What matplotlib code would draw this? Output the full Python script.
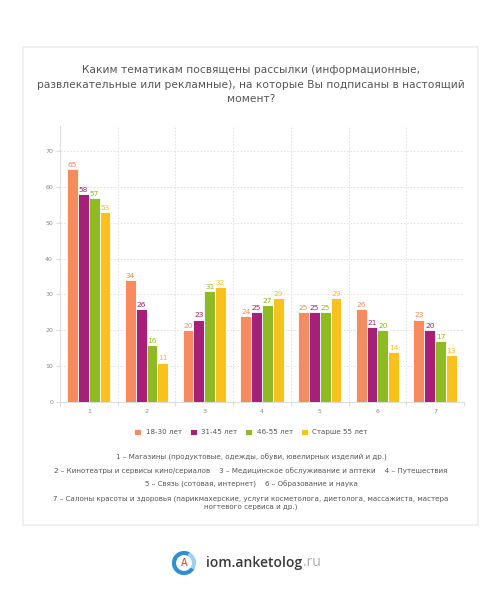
import matplotlib
matplotlib.use('Agg')
import matplotlib.pyplot as plt
from matplotlib.patches import Rectangle, Circle, Wedge
import numpy as np

# data
categories = ['1', '2', '3', '4', '5', '6', '7']
series_names = ['18-30 лет', '31-45 лет', '46-55 лет', 'Старше 55 лет']
age_18_30 = [65, 34, 20, 24, 25, 26, 23]
age_31_45 = [58, 26, 23, 25, 25, 21, 20]
age_46_55 = [57, 16, 31, 27, 25, 20, 17]
age_55_plus = [53, 11, 32, 29, 29, 14, 13]
colors = ['#f58b5e', '#a52077', '#8fba24', '#f8c21e']
y_ticks = [0, 10, 20, 30, 40, 50, 60, 70]

title = ('Каким тематикам посвящены рассылки (информационные,\n'
         'развлекательные или рекламные), на которые Вы подписаны в настоящий\n'
         'момент?')
notes = [
    '1 – Магазины (продуктовые, одежды, обуви, ювелирных изделий и др.)',
    '2 – Кинотеатры и сервисы кино/сериалов    3 – Медицинское обслуживание и аптеки    4 – Путешествия',
    '5 – Связь (сотовая, интернет)    6 – Образование и наука',
    '7 – Салоны красоты и здоровья (парикмахерские, услуги косметолога, диетолога, массажиста, мастера\nногтевого сервиса и др.)',
]

W, H = 502, 600
plt.rcParams['font.family'] = ['DejaVu Sans']
fig = plt.figure(figsize=(W / 100, H / 100), dpi=100, facecolor='white')

# card frame, kept under the axes
fig.add_artist(Rectangle((23 / W, 1 - 525 / H), 455 / W, 478 / H, transform=fig.transFigure,
                         facecolor='white', edgecolor='#ececec', linewidth=1.2, zorder=-5))

fig.text(0.5, 1 - 84.5 / H, title, ha='center', va='center', fontsize=7.7,
         color='#555555', linespacing=1.6)

ax = fig.add_axes([60 / W, 1 - 402 / H, 404 / W, 276 / H])
series = [age_18_30, age_31_45, age_46_55, age_55_plus]
x = np.arange(1, len(categories) + 1)
width = 0.1875
for i, (vals, col, name) in enumerate(zip(series, colors, series_names)):
    pos = x + (i - 1.5) * width
    ax.bar(pos, vals, width=width, color=col, edgecolor='white', linewidth=0.6,
           label=name, zorder=3)
    for p, v in zip(pos, vals):
        ax.text(p, v + 0.3, str(v), ha='center', va='bottom', fontsize=5.4,
                color=col, zorder=4)

ax.set_xlim(0.5, 7.5)
ax.set_ylim(0, 77)
ax.set_yticks(y_ticks)
ax.set_yticklabels([str(t) for t in y_ticks])
ax.set_xticks(x)
ax.set_xticklabels(categories)
ax.set_xticks(np.arange(0.5, 8.0, 1.0), minor=True)
ax.tick_params(axis='x', which='major', length=0, pad=5, labelsize=4.5, labelcolor='#888888')
ax.tick_params(axis='x', which='minor', length=3, color='#dddddd', width=0.8)
ax.tick_params(axis='y', length=3, color='#dddddd', labelsize=4.5, labelcolor='#888888', pad=2)
for s in ['top', 'right']:
    ax.spines[s].set_visible(False)
for s in ['left', 'bottom']:
    ax.spines[s].set_color('#dddddd')
    ax.spines[s].set_linewidth(0.8)
ax.grid(axis='y', color='#dddddd', linestyle=(0, (2, 2)), linewidth=0.6, zorder=0)
for b in np.arange(1.5, 8.0, 1.0):
    ax.axvline(b, color='#dddddd', linestyle=(0, (2, 2)), linewidth=0.6, zorder=0)

handles, labels = ax.get_legend_handles_labels()
fig.legend(handles, labels, loc='center', bbox_to_anchor=(0.5, 1 - 432 / H), ncol=4,
           frameon=False, fontsize=5.1, handlelength=1.0, handleheight=1.0,
           handletextpad=0.6, columnspacing=1.15, labelcolor='#555555')

note_y = [457, 470.5, 484, 502.7]
for ny, t in zip(note_y, notes):
    fig.text(0.5, 1 - ny / H, t, ha='center', va='center',
             fontsize=5.1, color='#555555', linespacing=1.4)

# logo
lax = fig.add_axes([172 / W, 1 - 575 / H, 24 / W, 24 / H])
lax.set_xlim(-1, 1)
lax.set_ylim(-1, 1)
lax.set_aspect('equal')
lax.axis('off')
lax.add_patch(Wedge((0, 0), 0.95, 60, 330, width=0.28, color='#2f8fcf'))
lax.add_patch(Wedge((0, 0), 0.95, 330, 420, width=0.28, color='#9fd0ee'))
lax.add_patch(Circle((0, 0), 0.6, color='white'))
lax.text(0, -0.02, 'A', ha='center', va='center', fontsize=7, color='#e8342f')

main = fig.text(206 / W, 1 - 563 / H, 'iom.anketolog', ha='left', va='center', fontsize=10,
                color='#3a3a3a', fontweight='semibold', family='Open Sans')
fig.canvas.draw()
bb = main.get_window_extent()
fig.text((bb.x1 + 1) / W, 1 - 563 / H, '.ru', ha='left', va='center', fontsize=10,
         color='#aaaaaa', family='Open Sans')

fig.savefig('out.png', dpi=100, facecolor='white')
